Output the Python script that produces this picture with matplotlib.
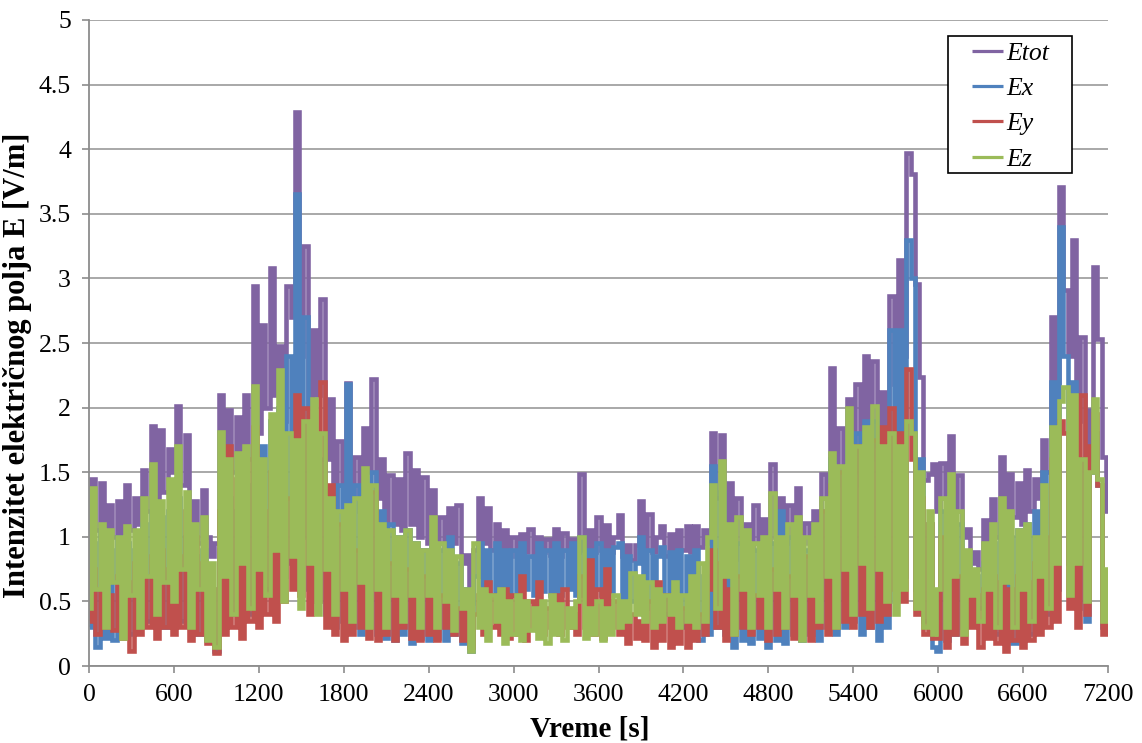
import numpy as np
import matplotlib
matplotlib.use("Agg")
from matplotlib import pyplot as plt
from matplotlib.patches import Rectangle
from matplotlib.ticker import MultipleLocator, FuncFormatter

plt.rcParams['font.family'] = ['Liberation Serif', 'DejaVu Serif']

# sample interval of the read-off series [s]
DT = 30

# Etot, every 30 s (one row = 5 min)
etot = [
    0.80, 1.45, 1.05, 1.42, 0.95, 1.25, 1.00, 1.28, 0.98, 1.40,
    1.05, 1.30, 1.10, 1.52, 1.20, 1.86, 1.30, 1.83, 1.35, 1.68,
    1.50, 2.01, 1.40, 1.79, 1.00, 1.28, 0.95, 1.36, 1.00, 0.85,
    0.95, 2.10, 1.40, 1.98, 1.50, 1.93, 1.55, 2.10, 1.60, 2.94,
    1.80, 2.64, 2.00, 3.08, 2.10, 2.48, 1.90, 2.94, 2.70, 4.29,
    2.40, 3.25, 2.00, 2.60, 2.10, 2.84, 1.60, 2.07, 1.20, 1.74,
    1.40, 2.19, 1.30, 1.62, 1.20, 1.84, 1.50, 2.22, 1.30, 1.60,
    1.10, 1.48, 1.10, 1.45, 1.05, 1.65, 1.10, 1.52, 1.00, 1.46,
    0.95, 1.36, 0.95, 1.15, 0.90, 1.22, 0.95, 1.25, 0.80, 0.86,
    0.49, 0.90, 1.30, 0.95, 1.22, 0.90, 1.10, 0.85, 1.05, 0.85,
    1.00, 0.85, 1.02, 0.88, 1.06, 0.85, 1.00, 0.88, 0.98, 0.86,
    1.06, 0.85, 1.03, 0.90, 0.98, 0.88, 1.49, 0.90, 1.05, 0.88,
    1.15, 0.90, 1.09, 0.88, 1.00, 1.17, 0.85, 0.94, 0.82, 0.94,
    1.28, 0.90, 1.18, 0.88, 1.00, 1.08, 0.85, 1.02, 0.88, 1.05,
    0.90, 1.08, 0.88, 1.08, 0.92, 1.05, 0.95, 1.80, 1.30, 1.79,
    0.90, 1.42, 0.83, 1.30, 0.95, 1.10, 0.90, 1.25, 0.95, 1.14,
    0.95, 1.56, 1.00, 1.30, 0.95, 1.25, 1.00, 1.38, 0.95, 1.11,
    0.95, 1.20, 1.00, 1.49, 1.30, 2.31, 1.40, 1.84, 1.50, 2.07,
    1.50, 2.18, 1.40, 2.40, 1.60, 2.36, 1.70, 2.12, 1.80, 2.86,
    2.18, 3.14, 2.40, 3.97, 3.81, 2.96, 2.24, 1.44, 1.49, 1.56,
    1.20, 1.57, 1.30, 1.78, 1.20, 1.48, 1.00, 1.06, 0.80, 0.88,
    0.75, 1.13, 0.90, 1.29, 1.00, 1.62, 1.20, 1.49, 1.15, 1.42,
    1.10, 1.52, 1.20, 1.45, 1.30, 1.75, 1.50, 2.70, 2.20, 3.71,
    2.91, 2.40, 3.30, 1.90, 2.55, 1.60, 1.98, 3.09, 2.53, 1.62,
    1.20,
]

ex = [
    0.30, 0.95, 0.15, 1.05, 0.22, 0.90, 0.20, 1.00, 0.28, 0.95,
    0.25, 0.90, 0.30, 1.10, 0.35, 1.20, 0.40, 1.15, 0.30, 1.20,
    0.45, 1.30, 0.35, 1.00, 0.30, 0.85, 0.25, 0.90, 0.20, 0.60,
    0.12, 0.90, 0.30, 1.30, 0.40, 1.20, 0.35, 1.40, 0.40, 1.60,
    0.45, 1.70, 0.60, 1.90, 0.55, 2.00, 0.70, 2.40, 0.80, 3.65,
    1.00, 2.70, 0.60, 1.70, 0.50, 1.60, 0.40, 1.20, 0.30, 1.40,
    0.35, 2.18, 0.30, 1.40, 0.25, 1.20, 0.30, 1.50, 0.25, 1.20,
    0.22, 1.10, 0.20, 1.00, 0.25, 1.05, 0.18, 0.95, 0.22, 0.90,
    0.20, 0.95, 0.22, 0.90, 0.20, 1.00, 0.25, 0.80, 0.18, 0.60,
    0.12, 0.70, 0.95, 0.55, 0.90, 0.55, 0.95, 0.50, 0.90, 0.55,
    0.90, 0.55, 0.95, 0.60, 0.85, 0.55, 0.95, 0.58, 0.90, 0.55,
    0.95, 0.55, 0.90, 0.60, 0.95, 0.55, 1.00, 0.55, 0.90, 0.60,
    0.95, 0.55, 0.90, 0.58, 0.92, 0.95, 0.50, 0.85, 0.50, 0.80,
    1.00, 0.45, 0.90, 0.50, 0.85, 0.92, 0.40, 0.88, 0.35, 0.90,
    0.30, 0.85, 0.40, 0.90, 0.20, 0.70, 0.25, 1.55, 0.30, 1.35,
    0.25, 1.00, 0.15, 0.95, 0.20, 0.85, 0.18, 0.90, 0.22, 0.80,
    0.15, 0.95, 0.20, 1.20, 0.18, 1.00, 0.25, 1.05, 0.20, 0.90,
    0.25, 1.00, 0.20, 1.20, 0.30, 1.60, 0.25, 1.50, 0.30, 1.70,
    0.35, 1.80, 0.25, 1.90, 0.30, 1.90, 0.20, 1.80, 0.30, 2.60,
    0.50, 2.60, 0.70, 3.30, 3.00, 0.60, 1.60, 0.35, 1.10, 0.15,
    0.12, 1.20, 0.20, 1.30, 0.25, 1.10, 0.30, 0.85, 0.40, 0.70,
    0.45, 0.80, 0.30, 0.95, 0.25, 1.10, 0.20, 1.00, 0.18, 1.05,
    0.20, 1.10, 0.25, 1.20, 0.30, 1.50, 0.40, 2.20, 0.60, 3.40,
    2.40, 0.80, 2.20, 0.45, 1.60, 0.35, 1.50, 1.80, 1.40, 0.30,
    0.40,
]

ey = [
    0.35, 0.75, 0.25, 0.60, 0.30, 0.55, 0.28, 0.70, 0.22, 0.65,
    0.12, 0.80, 0.25, 0.70, 0.30, 0.85, 0.22, 0.90, 0.30, 0.75,
    0.25, 0.85, 0.30, 1.20, 0.20, 1.00, 0.25, 0.80, 0.18, 0.60,
    0.10, 1.20, 0.25, 1.70, 0.30, 1.45, 0.22, 1.60, 0.35, 1.85,
    0.30, 1.20, 0.40, 1.50, 0.35, 1.70, 0.50, 1.30, 0.60, 2.10,
    0.55, 2.00, 0.40, 1.80, 0.50, 2.20, 0.30, 1.40, 0.25, 1.10,
    0.20, 1.20, 0.25, 0.90, 0.30, 1.00, 0.22, 1.35, 0.20, 0.95,
    0.25, 0.80, 0.20, 0.90, 0.30, 0.75, 0.22, 0.85, 0.20, 0.70,
    0.25, 0.60, 0.20, 0.55, 0.30, 0.50, 0.25, 0.45, 0.20, 0.50,
    0.15, 0.40, 0.55, 0.25, 0.65, 0.30, 0.55, 0.25, 0.60, 0.22,
    0.55, 0.25, 0.70, 0.20, 0.50, 0.30, 0.65, 0.25, 0.45, 0.30,
    0.55, 0.25, 0.60, 0.30, 0.40, 0.25, 0.70, 0.30, 0.82, 0.25,
    0.60, 0.22, 0.75, 0.30, 0.50, 0.25, 0.45, 0.18, 0.40, 0.22,
    0.35, 0.20, 0.50, 0.15, 0.65, 0.20, 0.55, 0.15, 0.40, 0.18,
    0.45, 0.15, 0.50, 0.20, 0.40, 0.25, 0.60, 0.90, 0.30, 0.80,
    0.20, 0.60, 0.25, 0.70, 0.30, 0.65, 0.25, 0.55, 0.30, 0.60,
    0.20, 0.75, 0.25, 0.95, 0.30, 0.70, 0.22, 1.05, 0.25, 0.85,
    0.20, 1.00, 0.30, 1.20, 0.25, 1.40, 0.30, 1.50, 0.35, 1.55,
    0.30, 1.70, 0.40, 1.60, 0.30, 1.75, 0.35, 1.85, 0.40, 2.00,
    0.60, 1.80, 0.50, 2.30, 1.60, 0.40, 1.30, 0.25, 1.10, 0.22,
    0.22, 1.00, 0.15, 0.80, 0.25, 0.70, 0.18, 0.75, 0.30, 0.55,
    0.15, 0.60, 0.22, 0.70, 0.18, 0.65, 0.12, 0.60, 0.20, 0.70,
    0.15, 0.65, 0.20, 0.80, 0.25, 1.00, 0.30, 1.60, 0.35, 1.90,
    1.80, 0.45, 2.05, 0.30, 2.10, 0.40, 1.70, 1.95, 1.40, 0.25,
    0.60,
]

ez = [
    0.45, 1.38, 0.60, 1.10, 0.30, 1.05, 0.65, 1.00, 0.22, 1.08,
    0.55, 1.05, 0.30, 1.30, 0.70, 1.56, 0.40, 1.28, 0.65, 1.45,
    0.50, 1.70, 0.75, 1.35, 0.30, 1.10, 0.60, 1.15, 0.20, 0.80,
    0.15, 1.81, 0.70, 1.60, 0.40, 1.65, 0.80, 1.70, 0.45, 2.17,
    0.75, 1.60, 0.55, 1.95, 0.90, 2.29, 0.50, 1.80, 0.85, 1.75,
    0.45, 1.90, 0.80, 2.07, 0.40, 1.80, 0.75, 1.30, 0.40, 1.20,
    0.60, 1.25, 0.35, 1.30, 0.65, 1.53, 0.30, 1.40, 0.60, 1.10,
    0.30, 1.05, 0.55, 1.00, 0.35, 1.05, 0.55, 0.95, 0.30, 0.90,
    0.55, 1.15, 0.30, 0.95, 0.50, 0.90, 0.28, 0.85, 0.45, 0.60,
    0.12, 0.95, 0.30, 0.60, 0.20, 0.55, 0.35, 0.60, 0.18, 0.50,
    0.25, 0.55, 0.20, 0.50, 0.28, 0.45, 0.22, 0.50, 0.18, 0.55,
    0.25, 0.48, 0.20, 0.45, 0.30, 0.50, 1.00, 0.22, 0.45, 0.25,
    0.50, 0.20, 0.45, 0.25, 0.55, 0.30, 0.50, 0.35, 0.72, 0.40,
    0.70, 0.35, 0.65, 0.30, 0.60, 0.35, 0.55, 0.40, 0.65, 0.30,
    0.55, 0.35, 0.70, 0.30, 0.80, 0.35, 1.00, 1.40, 0.45, 1.59,
    0.70, 1.10, 0.25, 1.15, 0.60, 1.05, 0.30, 0.95, 0.55, 1.00,
    0.30, 1.34, 0.60, 1.00, 0.30, 1.10, 0.55, 1.15, 0.20, 1.00,
    0.55, 1.10, 0.35, 1.30, 0.70, 1.65, 0.30, 1.55, 0.75, 2.00,
    0.40, 1.70, 0.80, 1.85, 0.45, 2.01, 0.75, 1.70, 0.50, 1.80,
    0.40, 1.70, 0.60, 1.90, 1.80, 0.45, 1.50, 0.30, 1.20, 0.25,
    0.60, 1.30, 0.30, 1.49, 0.70, 1.20, 0.25, 0.90, 0.55, 0.75,
    0.35, 0.95, 0.60, 1.10, 0.30, 1.30, 0.65, 1.20, 0.30, 1.05,
    0.60, 1.10, 0.35, 1.00, 0.70, 1.40, 0.45, 1.85, 0.80, 2.05,
    2.16, 0.55, 2.10, 0.80, 1.60, 0.50, 1.50, 2.07, 1.45, 0.35,
    0.75,
]

labels = ['Etot', 'Ex', 'Ey', 'Ez']
colors = ['#8064A2', '#4F81BD', '#C0504D', '#9BBB59']

fig = plt.figure(figsize=(11.42, 7.43), dpi=100)
ax = fig.add_axes([0.078, 0.1036, 0.8922, 0.8695])

for series, name, col in zip([etot, ex, ey, ez], labels, colors):
    t = np.arange(len(series)) * DT
    ax.plot(t, series, color=col, lw=3.3, label=name, drawstyle='steps-mid',
            solid_joinstyle='miter', solid_capstyle='butt')

ax.set_xlim(0, 7200)
ax.set_ylim(0, 5)
ax.xaxis.set_major_locator(MultipleLocator(600))
ax.yaxis.set_major_locator(MultipleLocator(0.5))
ax.yaxis.set_major_formatter(FuncFormatter(lambda v, p: f"{v:g}"))
ax.grid(axis='y', color='#9a9a9a', lw=1.2)
ax.set_axisbelow(True)
for s in ['top', 'right']:
    ax.spines[s].set_visible(False)
for s in ['left', 'bottom']:
    ax.spines[s].set_color('#8c8c8c')
    ax.spines[s].set_linewidth(1.3)
ax.tick_params(axis='both', direction='out', length=5, width=1.2,
               color='#8c8c8c', labelsize=18.5)
ax.tick_params(axis='y', pad=8)
ax.tick_params(axis='x', pad=8)

ax.set_xlabel('Vreme [s]', fontsize=21, fontweight='bold')
ax.set_ylabel('Intenzitet električnog polja E [V/m]', fontsize=22,
              fontweight='bold')
ax.xaxis.set_label_coords(0.4917, -0.077)
ax.yaxis.set_label_coords(-0.056, 0.466)

# legend box (wider side padding than matplotlib's frame allows)
box = Rectangle((0.843, 0.7632), 0.1217, 0.212, transform=ax.transAxes,
                facecolor='white', edgecolor='black', lw=1.2, zorder=4)
ax.add_patch(box)
leg = ax.legend(loc='upper left', bbox_to_anchor=(0.8665, 0.9665),
                borderaxespad=0, borderpad=0, frameon=False,
                prop={'style': 'italic', 'size': 18.5},
                handlelength=1.2, handletextpad=0.12, labelspacing=0.48)
leg.set_zorder(5)
for line in leg.get_lines():
    line.set_linewidth(2.3)

fig.savefig('out.png', dpi=100)
